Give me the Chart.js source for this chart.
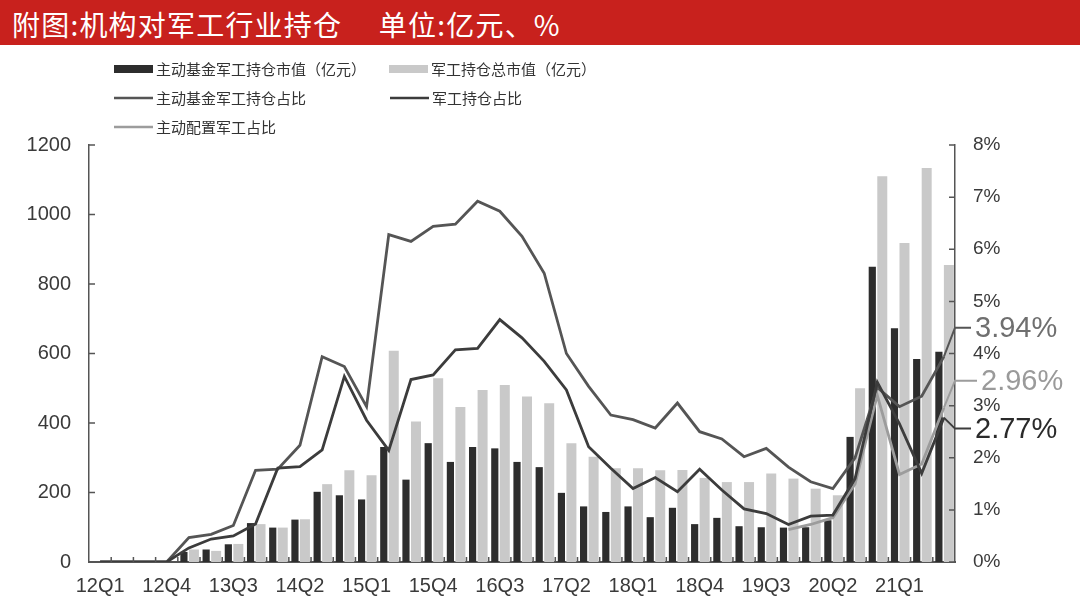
<!DOCTYPE html>
<html>
<head>
<meta charset="utf-8">
<script src="https://cdn.jsdelivr.net/npm/chart.js@4.4.0/dist/chart.umd.min.js"></script>
<style>
  html, body { margin: 0; padding: 0; background: #fff; }
  #wrap { position: relative; width: 1080px; height: 605px; overflow: hidden; }
  #head {
    position: absolute; left: 0; top: 0; width: 1080px; height: 45px;
    background: #c8211d; color: #fff; box-sizing: border-box; padding-left: 12px;
    font: 400 28px "Noto Sans CJK SC", sans-serif; line-height: 48px; white-space: pre;
    letter-spacing: 1.2px;
  }
  canvas { position: absolute; left: 0; top: 0; }
</style>
</head>
<body>
<div id="wrap">
  <canvas id="canvas" width="1080" height="605"></canvas>
  <div id="head">附图:机构对军工行业持仓　 单位:亿元、%</div>
</div>
<script>
const quarters = [
  "12Q1", "12Q2", "12Q3", "12Q4", "13Q1", "13Q2", "13Q3", "13Q4",
  "14Q1", "14Q2", "14Q3", "14Q4", "15Q1", "15Q2", "15Q3", "15Q4",
  "16Q1", "16Q2", "16Q3", "16Q4", "17Q1", "17Q2", "17Q3", "17Q4",
  "18Q1", "18Q2", "18Q3", "18Q4", "19Q1", "19Q2", "19Q3", "19Q4",
  "20Q1", "20Q2", "20Q3", "20Q4", "21Q1", "21Q2", "21Q3",
];

// 主动基金军工持仓市值（亿元）
const activeValue = [
  0, 0, 0, 0, 29, 36, 51, 112, 99, 122, 202, 192, 180, 331, 237, 342,
  288, 331, 327, 288, 273, 199, 160, 144, 160, 129, 156, 109, 127, 103,
  100, 99, 100, 120, 360, 850, 673, 584, 605,
];

// 军工持仓总市值（亿元）
const totalValue = [
  0, 0, 0, 0, 36, 32, 52, 109, 99, 123, 224, 264, 250, 608, 404, 529,
  446, 495, 509, 476, 457, 342, 303, 270, 270, 264, 265, 242, 230, 230,
  255, 240, 211, 192, 500, 1110, 918, 1134, 855,
];

// 主动基金军工持仓占比（%）
const activeShare = [
  0, 0, 0, 0, 0.47, 0.53, 0.7, 1.76, 1.78, 2.24, 3.94, 3.75, 2.98, 6.28,
  6.15, 6.44, 6.48, 6.92, 6.73, 6.25, 5.54, 4.0, 3.37, 2.82, 2.73, 2.57,
  3.05, 2.5, 2.36, 2.02, 2.18, 1.82, 1.54, 1.41, 2.0, 3.35, 2.98, 3.18, 3.94,
];

// 军工持仓占比（%）
const sectorShare = [
  0, 0, 0, 0, 0.27, 0.44, 0.5, 0.73, 1.8, 1.83, 2.15, 3.56, 2.72, 2.14,
  3.5, 3.59, 4.07, 4.1, 4.65, 4.3, 3.85, 3.3, 2.21, 1.8, 1.41, 1.62,
  1.35, 1.78, 1.38, 1.02, 0.93, 0.72, 0.88, 0.9, 1.6, 3.45, 2.65, 1.7, 2.77,
];

// 主动配置军工占比（%）
const allocShare = [
  null, null, null, null, null, null, null, null, null, null, null, null,
  null, null, null, null, null, null, null, null, null, null, null, null,
  null, null, null, null, null, null, null, 0.62, 0.72, 0.85, 1.5, 3.2,
  1.68, 1.88, 2.96,
];

const numFont = "'Liberation Sans', Arial, sans-serif";
const cjkFont = "'Noto Sans CJK SC', sans-serif";
const axisColor = "#555555";

// end-of-line callouts: dataset index -> label offset and colour
const endLabelStyle = {
  2: { dy: -29, color: "#6f6f6f", dx: 20 },
  3: { dy: 11, color: "#2a2a2a", dx: 20 },
  4: { dy: -27, color: "#9a9a9a", dx: 26 },
};

const legendPos = [
  { ds: 0, x: 114, y: 69, kind: "box" },
  { ds: 1, x: 389, y: 69, kind: "box" },
  { ds: 2, x: 114, y: 98, kind: "line" },
  { ds: 3, x: 390, y: 98, kind: "line" },
  { ds: 4, x: 114, y: 127, kind: "line" },
];

const legendPlugin = {
  id: "legendPlugin",
  afterDraw(chart) {
    const { ctx } = chart;
    ctx.save();
    ctx.font = "15px " + cjkFont;
    ctx.textBaseline = "middle";
    legendPos.forEach((item) => {
      const ds = chart.data.datasets[item.ds];
      if (item.kind === "box") {
        ctx.fillStyle = ds.backgroundColor;
        ctx.fillRect(item.x, item.y - 4, 39, 8);
      } else {
        ctx.strokeStyle = ds.borderColor;
        ctx.lineWidth = 2.5;
        ctx.beginPath();
        ctx.moveTo(item.x, item.y);
        ctx.lineTo(item.x + 39, item.y);
        ctx.stroke();
      }
      ctx.fillStyle = "#333333";
      ctx.fillText(ds.label, item.x + 42, item.y);
    });
    ctx.restore();
  },
};

const innerTicks = {
  id: "innerTicks",
  afterDraw(chart) {
    const { ctx, chartArea: a, scales } = chart;
    ctx.save();
    ctx.strokeStyle = axisColor;
    ctx.lineWidth = 1.5;
    ctx.beginPath();
    for (let i = 1; i < quarters.length; i++) {
      const px = (scales.x.getPixelForValue(i - 1) + scales.x.getPixelForValue(i)) / 2;
      ctx.moveTo(px, a.bottom);
      ctx.lineTo(px, a.bottom - 5);
    }
    scales.y.ticks.forEach((t) => {
      const py = scales.y.getPixelForValue(t.value);
      ctx.moveTo(a.left, py);
      ctx.lineTo(a.left + 6, py);
    });
    scales.y1.ticks.forEach((t) => {
      const py = scales.y1.getPixelForValue(t.value);
      ctx.moveTo(a.right, py);
      ctx.lineTo(a.right - 6, py);
    });
    ctx.stroke();
    ctx.restore();
  },
};

const endLabels = {
  id: "endLabels",
  afterDatasetsDraw(chart) {
    const { ctx, chartArea: a } = chart;
    ctx.save();
    Object.keys(endLabelStyle).forEach((k) => {
      const i = Number(k);
      const st = endLabelStyle[k];
      const ds = chart.data.datasets[i];
      const meta = chart.getDatasetMeta(i);
      const last = meta.data[meta.data.length - 1];
      const v = ds.data[ds.data.length - 1];
      const ly = last.y + st.dy;
      ctx.strokeStyle = ds.borderColor;
      ctx.lineWidth = 2;
      ctx.beginPath();
      ctx.moveTo(last.x, last.y);
      ctx.lineTo(a.right, ly);
      ctx.lineTo(a.right + st.dx - 4, ly);
      ctx.stroke();
      ctx.fillStyle = st.color;
      ctx.font = "29px " + numFont;
      ctx.textBaseline = "middle";
      ctx.fillText(v.toFixed(2) + "%", a.right + st.dx, ly + 1);
    });
    ctx.restore();
  },
};

const ctx = document.getElementById("canvas");

const chart = new Chart(ctx, {
  data: {
    labels: quarters,
    datasets: [
      {
        type: "bar",
        label: "主动基金军工持仓市值（亿元）",
        data: activeValue,
        backgroundColor: "#2d2d2d",
        yAxisID: "y",
        categoryPercentage: 0.9,
        barPercentage: 0.72,
        order: 2,
      },
      {
        type: "bar",
        label: "军工持仓总市值（亿元）",
        data: totalValue,
        backgroundColor: "#c9c9c9",
        yAxisID: "y",
        categoryPercentage: 0.9,
        barPercentage: 1.0,
        order: 3,
      },
      {
        type: "line",
        label: "主动基金军工持仓占比",
        data: activeShare,
        borderColor: "#555555",
        borderWidth: 2.8,
        pointRadius: 0,
        tension: 0,
        yAxisID: "y1",
        order: 1,
      },
      {
        type: "line",
        label: "军工持仓占比",
        data: sectorShare,
        borderColor: "#3c3c3c",
        borderWidth: 2.8,
        pointRadius: 0,
        tension: 0,
        yAxisID: "y1",
        order: 0,
      },
      {
        type: "line",
        label: "主动配置军工占比",
        data: allocShare,
        borderColor: "#9c9c9c",
        borderWidth: 2.8,
        pointRadius: 0,
        tension: 0,
        yAxisID: "y1",
        order: 0,
      },
    ],
  },
  options: {
    responsive: false,
    animation: false,
    devicePixelRatio: 1,
    layout: { padding: { top: 145, left: 0, right: 0, bottom: 0 } },
    plugins: {
      legend: { display: false },
      tooltip: { enabled: false },
    },
    scales: {
      x: {
        grid: { display: false, drawTicks: false },
        border: { display: true, color: axisColor, width: 2 },
        ticks: {
          autoSkip: false,
          maxRotation: 0,
          padding: 12,
          color: "#3a3a3a",
          font: { family: numFont, size: 20 },
          callback: (v, i) => (i % 3 === 0 ? quarters[i] : ""),
        },
        afterFit: (s) => { s.height = 43; },
      },
      y: {
        position: "left",
        min: 0,
        max: 1200,
        grid: { display: false, drawTicks: false },
        border: { display: true, color: axisColor, width: 1.5 },
        ticks: {
          stepSize: 200,
          padding: 18,
          color: "#3a3a3a",
          font: { family: numFont, size: 20 },
          callback: (v) => String(v),
        },
        afterFit: (s) => { s.width = 89; },
      },
      y1: {
        position: "right",
        min: 0,
        max: 8,
        grid: { display: false, drawTicks: false },
        border: { display: true, color: axisColor, width: 1.5 },
        ticks: {
          stepSize: 1,
          padding: 18,
          color: "#3a3a3a",
          font: { family: numFont, size: 19 },
          callback: (v) => v + "%",
        },
        afterFit: (s) => { s.width = 125; },
      },
    },
  },
  plugins: [legendPlugin, innerTicks, endLabels],
});
</script>
</body>
</html>
